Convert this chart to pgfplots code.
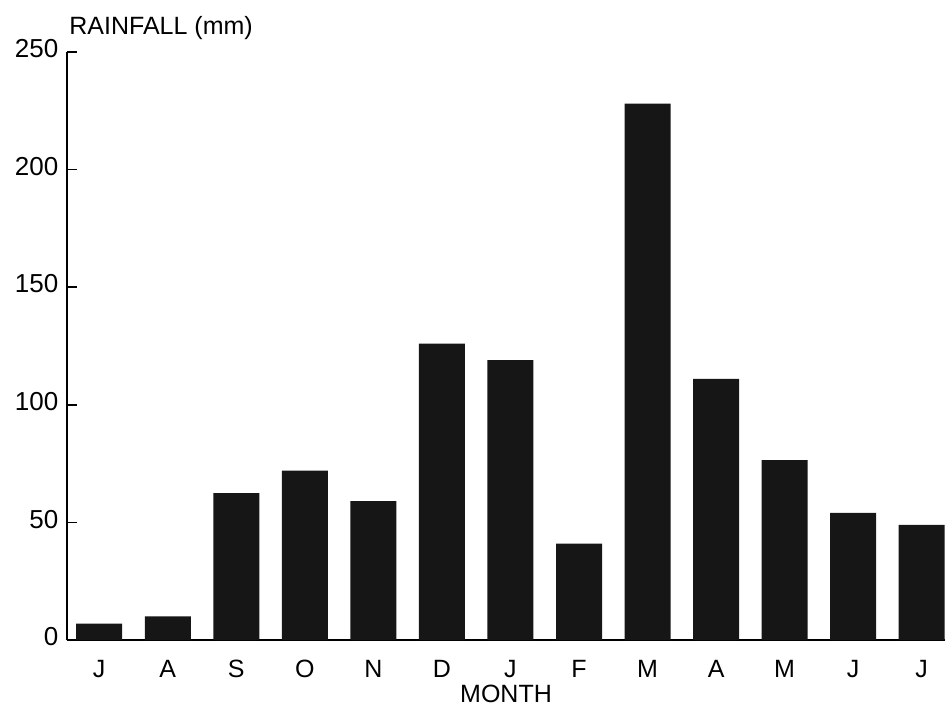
\documentclass[border=0pt]{standalone}
\usepackage{fontspec}
\setmainfont{Liberation Sans}
\usepackage{pgfplots}
\pgfplotsset{compat=1.18}
\definecolor{barblack}{HTML}{161616}
\begin{document}
\fontsize{12.5}{14}\selectfont
\begin{tikzpicture}
\path[use as bounding box] (-33.5pt,-41pt) rectangle (439pt,320pt);
\begin{axis}[
  scale only axis,
  width=439pt, height=294pt,
  at={(0,0)}, anchor=south west,
  axis x line*=bottom,
  axis y line*=left,
  axis line style={-, line width=0.7pt},
  xmin=-0.47, xmax=12.34,
  ymin=0, ymax=250,
  ytick={0,50,100,150,200,250},
  tick align=inside,
  major tick length=5pt,
  tick style={line width=0.7pt, black},
  xtick={0,...,12},
  xticklabels={J,A,S,O,N,D,J,F,M,A,M,J,J},
  xtick style={draw=none},
  typeset ticklabels with strut,
  xticklabel style={yshift=-4.5pt},
  yticklabel style={xshift=0pt, font=\fontsize{13}{14}\selectfont},
  /pgf/number format/assume math mode=true,
  xlabel={MONTH},
  xlabel style={yshift=9pt},
  clip=false,
]
\addplot[ybar, bar width=23pt, fill=barblack, draw=none] coordinates {
(0,7) (1,10) (2,62.5) (3,72) (4,59) (5,126) (6,119) (7,41) (8,228) (9,111) (10,76.5) (11,54) (12,49)
};
\node[anchor=base west, inner sep=0pt] at (rel axis cs:0,1) [xshift=1pt, yshift=8.5pt] {RAINFALL (mm)};
\end{axis}
\end{tikzpicture}
\end{document}
